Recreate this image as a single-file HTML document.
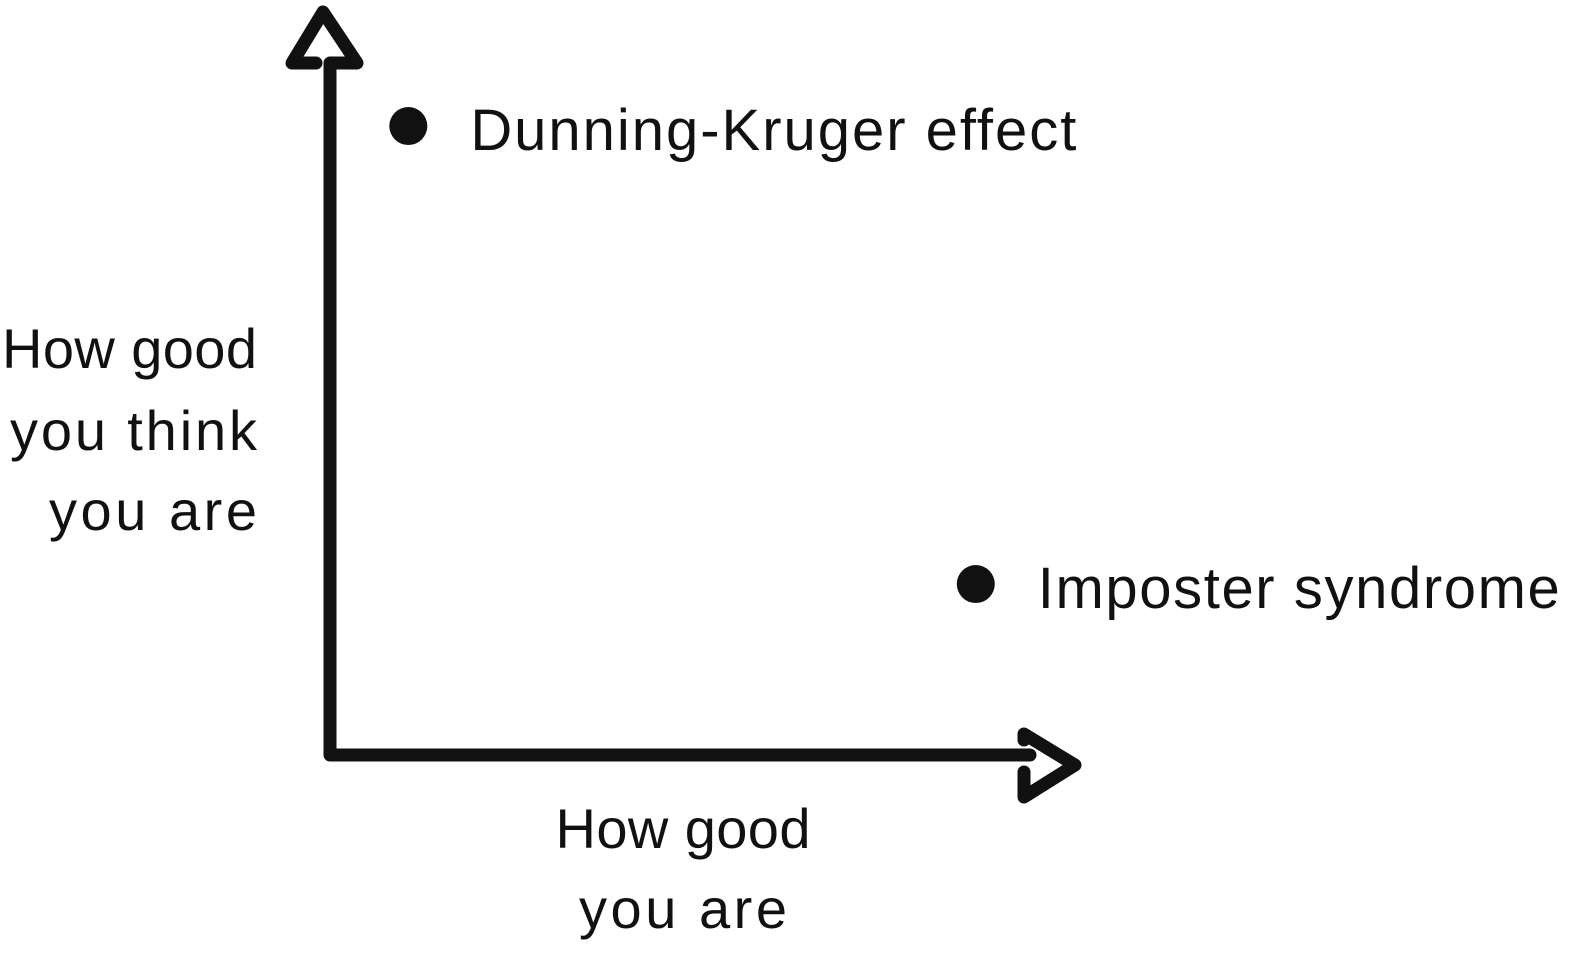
<!DOCTYPE html>
<html><head><meta charset="utf-8"><style>
html,body{margin:0;padding:0;background:#fff;}
svg{display:block;}
text{font-family:"Liberation Sans","DejaVu Sans",sans-serif;fill:#111;}
</style></head><body>
<svg id="chart" width="1586" height="955" viewBox="0 0 1586 955" xmlns="http://www.w3.org/2000/svg">
<g>
<polyline points="316,63 292,63 323,12 357,63 330,63 330,755 1030,755" fill="none" stroke="#111" stroke-width="13" stroke-linejoin="round" stroke-linecap="round"/>
</g>
<g>
<polyline points="1024,740 1024,734 1075,765 1024,797 1024,772" fill="none" stroke="#111" stroke-width="13" stroke-linejoin="round" stroke-linecap="round"/>
</g>
<g font-size="56" text-anchor="end">
<text x="257" y="368" textLength="255">How good</text>
<text x="257" y="450" textLength="247">you think</text>
<text x="257" y="530" textLength="208">you are</text>
</g>
<g font-size="56" text-anchor="middle">
<text x="683" y="848" textLength="255">How good</text>
<text x="683" y="928" textLength="208">you are</text>
</g>
<g id="points"></g>
</svg>
<script>
const labels = ["Dunning-Kruger effect", "Imposter syndrome"];
const actualSkill = [0.11, 0.907];
const perceivedSkill = [0.905, 0.246];
const labelWidths = [606, 522];
const ox = 330, oy = 755, w = 712, h = 695;
function xs(v){return ox + v*w;}
function ys(v){return oy - v*h;}
const g = document.getElementById('points');
const NS = 'http://www.w3.org/2000/svg';
labels.forEach((lab,i)=>{
  const c = document.createElementNS(NS,'circle');
  
  
  c.setAttribute('cx',xs(actualSkill[i]));
  c.setAttribute('cy',ys(perceivedSkill[i]));
  c.setAttribute('r',19);
  c.setAttribute('fill','#111');
  g.appendChild(c);
  const t = document.createElementNS(NS,'text');
  
  
  t.setAttribute('x',xs(actualSkill[i])+62);
  t.setAttribute('y',ys(perceivedSkill[i])+24);
  t.setAttribute('font-size','58');
  t.setAttribute('textLength',labelWidths[i]);
  t.textContent = lab;
  g.appendChild(t);
});
</script>
</body></html>
